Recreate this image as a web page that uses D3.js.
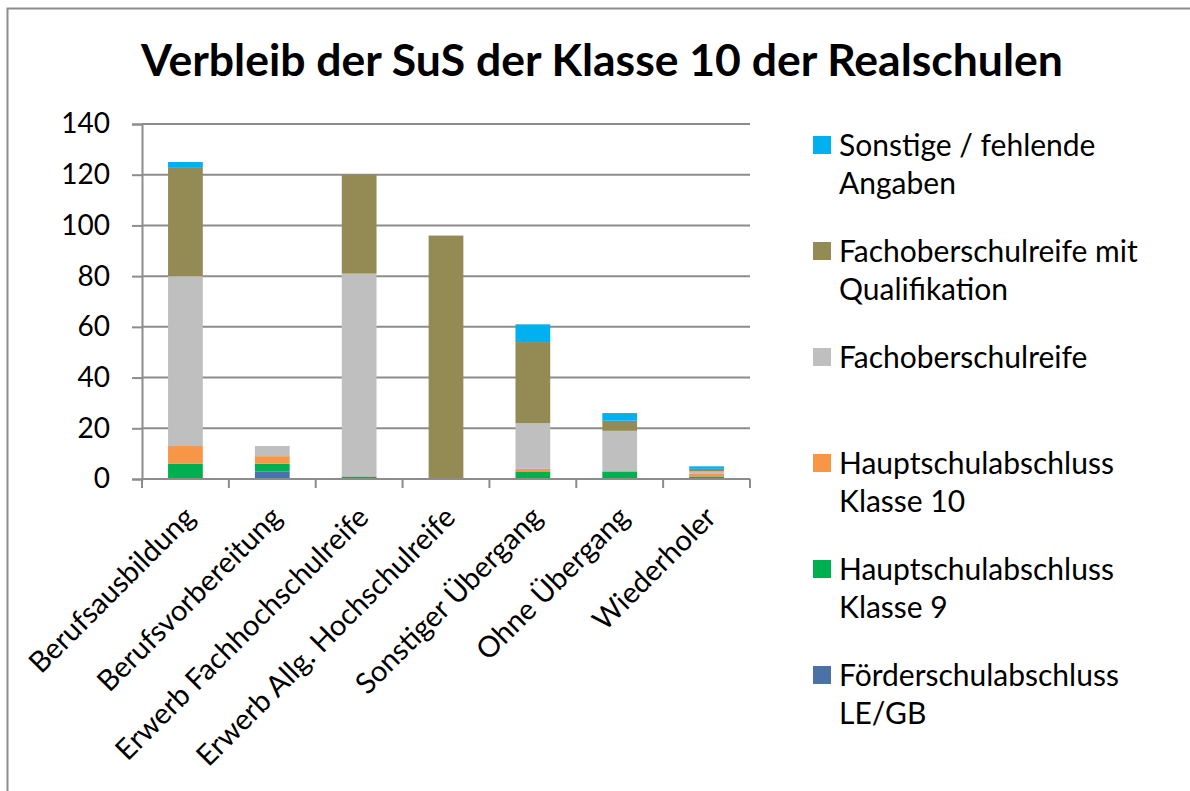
<!DOCTYPE html>
<html>
<head>
<meta charset="utf-8">
<script src="https://cdn.jsdelivr.net/npm/d3@7"></script>
<style>
  body { margin: 0; background: #fff; }
  text { font-family: Lato, "Noto Sans", sans-serif; fill: #000; }
</style>
</head>
<body>
<div id="chart"></div>
<script>
(function() {

// categories on the x axis
var categories = ['Berufsausbildung', 'Berufsvorbereitung', 'Erwerb Fachhochschulreife',
                  'Erwerb Allg. Hochschulreife', 'Sonstiger Übergang', 'Ohne Übergang', 'Wiederholer'];

// series, bottom to top of each stack
var foerderschul   = [0, 3, 0, 0, 0, 0, 0];
var hauptschul9    = [6, 3, 1, 0, 3, 3, 1];
var hauptschul10   = [7, 3, 0, 0, 1, 0, 1];
var fachober       = [67, 4, 80, 0, 18, 16, 1];
var fachoberQuali  = [43, 0, 39, 96, 32, 4, 1];
var sonstige       = [2, 0, 0, 0, 7, 3, 1];

var seriesNames = ['Förderschulabschluss LE/GB', 'Hauptschulabschluss Klasse 9', 'Hauptschulabschluss Klasse 10',
                   'Fachoberschulreife', 'Fachoberschulreife mit Qualifikation', 'Sonstige / fehlende Angaben'];
var seriesColors = ['#4a72a8', '#00b050', '#f79646', '#bfbfbf', '#948a54', '#00b0f0'];
var yTicks = [0, 20, 40, 60, 80, 100, 120, 140];

// legend lines (top to bottom)
var legendLines = [
  ['Sonstige / fehlende', 'Angaben'],
  ['Fachoberschulreife mit', 'Qualifikation'],
  ['Fachoberschulreife'],
  ['Hauptschulabschluss', 'Klasse 10'],
  ['Hauptschulabschluss', 'Klasse 9'],
  ['Förderschulabschluss', 'LE/GB']
];

var allSeries = [foerderschul, hauptschul9, hauptschul10, fachober, fachoberQuali, sonstige];
var table = categories.map(function(c, i) {
  var row = {cat: c};
  seriesNames.forEach(function(s, j) { row[s] = allSeries[j][i]; });
  return row;
});

var W = 1190, H = 791;
var plot = {left: 142, right: 750, top: 124, bottom: 479};

var svg = d3.select('#chart').append('svg')
    .attr('width', W)
    .attr('height', H);

// outer frame
svg.append('rect')
    .attr('x', 7.5).attr('y', 8.5)
    .attr('width', 1200).attr('height', 800)
    .attr('fill', 'none')
    .attr('stroke', '#8c8c8c')
    .attr('stroke-width', 2);

var x = d3.scaleBand()
    .domain(categories)
    .range([plot.left, plot.right])
    .paddingInner(0.6)
    .paddingOuter(0.3);

var y = d3.scaleLinear()
    .domain([0, 140])
    .range([plot.bottom, plot.top]);

// gridlines
svg.append('g').selectAll('line')
    .data(yTicks.slice(1))
    .enter().append('line')
    .attr('x1', plot.left).attr('x2', plot.right)
    .attr('y1', function(d) { return y(d); })
    .attr('y2', function(d) { return y(d); })
    .attr('stroke', '#8c8c8c')
    .attr('stroke-width', 2);

// y axis
var yAxis = svg.append('g')
    .attr('transform', 'translate(' + plot.left + ',0)')
    .call(d3.axisLeft(y).tickValues(yTicks).tickSize(10).tickPadding(22));
yAxis.select('.domain').attr('stroke', '#8c8c8c').attr('stroke-width', 2);
yAxis.selectAll('.tick line').attr('stroke', '#8c8c8c').attr('stroke-width', 2);
yAxis.selectAll('.tick text').style('font-size', '28px').style('font-family', 'Lato');

// stacked bars
var stack = d3.stack().keys(seriesNames);
var layers = stack(table);

svg.append('g').selectAll('g')
    .data(layers)
    .enter().append('g')
    .attr('fill', function(d, i) { return seriesColors[i]; })
    .selectAll('rect')
    .data(function(d) { return d; })
    .enter().append('rect')
    .attr('x', function(d) { return x(d.data.cat); })
    .attr('width', x.bandwidth())
    .attr('y', function(d) { return y(d[1]); })
    .attr('height', function(d) { return y(d[0]) - y(d[1]); });

// x axis line and ticks between categories
var step = x.step();
var xAxis = svg.append('g')
    .attr('transform', 'translate(0,' + plot.bottom + ')');
xAxis.append('line')
    .attr('x1', plot.left).attr('x2', plot.right)
    .attr('stroke', '#8c8c8c').attr('stroke-width', 2);
xAxis.selectAll('.xt')
    .data(d3.range(categories.length + 1))
    .enter().append('line')
    .attr('class', 'xt')
    .attr('x1', function(i) { return plot.left + i * step; })
    .attr('x2', function(i) { return plot.left + i * step; })
    .attr('y1', 0).attr('y2', 9)
    .attr('stroke', '#8c8c8c').attr('stroke-width', 2);

// rotated category labels
svg.append('g').selectAll('text')
    .data(categories)
    .enter().append('text')
    .attr('transform', function(d) {
      return 'translate(' + (x(d) + x.bandwidth() / 2 + 4) + ',' + (plot.bottom + 33) + ') rotate(-45)';
    })
    .attr('text-anchor', 'end')
    .attr('dy', '0.35em')
    .style('font-size', '29px')
    .text(function(d) { return d; });

// title
svg.append('text')
    .attr('x', 602)
    .attr('y', 76)
    .attr('text-anchor', 'middle')
    .style('font-size', '44.5px')
    .style('font-weight', 'bold')
    .text('Verbleib der SuS der Klasse 10 der Realschulen');

// legend
var legendColors = seriesColors.slice().reverse();
var leg = svg.append('g').selectAll('g')
    .data(legendLines)
    .enter().append('g')
    .attr('transform', function(d, i) { return 'translate(813,' + (145 + i * 106) + ')'; });

leg.append('rect')
    .attr('x', 0).attr('y', -9)
    .attr('width', 18).attr('height', 18)
    .attr('fill', function(d, i) { return legendColors[i]; });

leg.each(function(lines) {
  var t = d3.select(this).append('text')
      .attr('x', 26)
      .attr('y', 0)
      .style('font-size', '30px');
  lines.forEach(function(l, k) {
    t.append('tspan')
      .attr('x', 26)
      .attr('dy', k === 0 ? '0.35em' : 38)
      .text(l);
  });
});

})();
</script>
</body>
</html>
